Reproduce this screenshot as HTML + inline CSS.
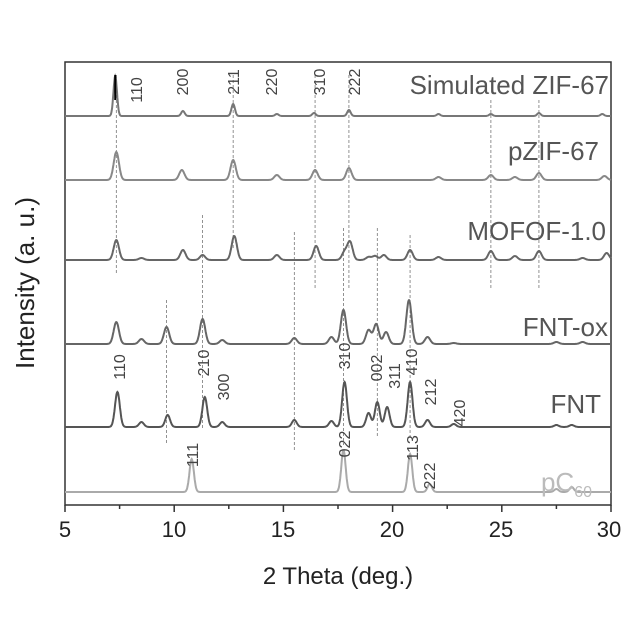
<!DOCTYPE html>
<html><head><meta charset="utf-8"><style>
html,body{margin:0;padding:0;background:#fff}
svg{display:block;font-family:"Liberation Sans",sans-serif}
</style></head><body>
<svg id="s" width="640" height="640" viewBox="0 0 640 640">
<rect x="65" y="62" width="546" height="443" fill="none" stroke="#333" stroke-width="1.5"/>
<g id="dash" stroke="#777" stroke-width="0.8" stroke-dasharray="3,2"></g>
<g id="curves" fill="none" stroke-width="2"></g>
<g font-size="16" fill="#444">
<text transform="translate(142,90) rotate(-90)" text-anchor="middle">110</text>
<text transform="translate(188,82) rotate(-90)" text-anchor="middle">200</text>
<text transform="translate(239,82) rotate(-90)" text-anchor="middle">211</text>
<text transform="translate(277,82) rotate(-90)" text-anchor="middle">220</text>
<text transform="translate(325,82) rotate(-90)" text-anchor="middle">310</text>
<text transform="translate(360,82) rotate(-90)" text-anchor="middle">222</text>
<text transform="translate(125,367) rotate(-90)" text-anchor="middle">110</text>
<text transform="translate(209,363) rotate(-90)" text-anchor="middle">210</text>
<text transform="translate(229,387) rotate(-90)" text-anchor="middle">300</text>
<text transform="translate(350,356) rotate(-90)" text-anchor="middle">310</text>
<text transform="translate(382,368) rotate(-90)" text-anchor="middle">002</text>
<text transform="translate(400,376) rotate(-90)" text-anchor="middle">311</text>
<text transform="translate(417,362) rotate(-90)" text-anchor="middle">410</text>
<text transform="translate(436,392) rotate(-90)" text-anchor="middle">212</text>
<text transform="translate(465,413) rotate(-90)" text-anchor="middle">420</text>
<text transform="translate(198,455) rotate(-90)" text-anchor="middle">111</text>
<text transform="translate(350,444) rotate(-90)" text-anchor="middle">022</text>
<text transform="translate(418,448) rotate(-90)" text-anchor="middle">113</text>
<text transform="translate(435,476) rotate(-90)" text-anchor="middle">222</text>
</g>
<g font-size="26" text-anchor="end" fill="#555">
<text x="609" y="94">Simulated ZIF-67</text>
<text x="599" y="160">pZIF-67</text>
<text x="606" y="240">MOFOF-1.0</text>
<text x="608" y="336">FNT-ox</text>
<text x="601" y="413">FNT</text>
<text x="592" y="491" fill="#bbb">pC<tspan font-size="16" dy="6">60</tspan></text>
</g>
<g id="ticks" stroke="#333" stroke-width="1.5"></g>
<g font-size="22" fill="#222" text-anchor="middle">
<text x="65" y="537">5</text><text x="174" y="537">10</text><text x="283" y="537">15</text>
<text x="392" y="537">20</text><text x="501" y="537">25</text><text x="609" y="537">30</text>
<text x="338" y="584" font-size="24">2 Theta (deg.)</text>
<text transform="translate(34,283) rotate(-90)" font-size="26">Intensity (a. u.)</text>
</g>
</svg>
<script>
const X=t=>65+(t-5)*21.84;
const S=[
[116,"#777",0.08,[[7.3,40],[10.4,5],[12.7,12],[14.7,2],[16.4,3],[18.0,6],[22.1,2],[24.5,2],[26.7,3],[29.6,2]]],
[180,"#888",0.12,[[7.35,28],[10.35,10],[12.7,20],[14.7,5],[16.45,10],[18.0,12],[22.1,3],[24.5,5],[25.6,3],[26.7,7],[29.7,4]]],
[260,"#666",0.12,[[7.35,20],[8.5,2],[10.4,10],[11.3,5],[12.75,24],[14.7,5],[16.5,14],[17.8,8],[18.05,18],[18.9,3],[19.2,4],[19.6,5],[20.8,10],[22.1,3],[24.5,9],[25.6,4],[26.7,9],[28.7,2],[29.8,7]]],
[344,"#666",0.12,[[7.35,22],[8.5,5],[9.65,17],[11.3,25],[12.2,4],[15.5,6],[17.2,7],[17.75,34],[18.9,14],[19.25,20],[19.7,12],[20.75,44],[21.6,7],[22.8,1],[27.5,2],[28.7,2]]],
[427,"#555",0.11,[[7.4,35],[8.5,5],[9.7,12],[11.4,30],[12.2,5],[15.5,7],[17.2,6],[17.8,45],[18.9,14],[19.3,25],[19.75,20],[20.8,45],[21.6,7],[22.8,3],[27.5,2],[28.2,2]]],
[492,"#aaa",0.1,[[10.8,33],[17.75,42],[20.8,38],[21.7,8],[27.5,3],[28.2,5]]]
];
let h="";
for(const [b,c,w,pk] of S){let d="";for(let t=5;t<=30.001;t+=0.02){let y=b;for(const[p,a]of pk){y-=a*Math.exp(-((t-p)**2)/(2*w*w))}d+=(d?"L":"M")+X(t).toFixed(1)+","+y.toFixed(1)}h+=`<path d="${d}" stroke="${c}"/>`;}
h+=`<line x1="${X(7.3)}" y1="75" x2="${X(7.3)}" y2="100" stroke="#000" stroke-width="2"/>`;
document.getElementById("curves").innerHTML=h;
const D=[[7.35,75,275],[12.7,75,250],[16.45,75,290],[18.0,75,290],[24.5,100,290],[26.7,100,290],[9.65,300,445],[11.3,215,430],[15.5,232,450],[17.75,228,445],[19.3,228,438],[20.8,235,440]];
document.getElementById("dash").innerHTML=D.map(([t,a,b])=>`<line x1="${X(t)}" y1="${a}" x2="${X(t)}" y2="${b}"/>`).join("");
let k="";for(let t=5;t<=30;t+=2.5){const l=(t%5==0)?7:4;k+=`<line x1="${X(t)}" y1="505" x2="${X(t)}" y2="${505+l}"/>`}
document.getElementById("ticks").innerHTML=k;
</script>
</body></html>
